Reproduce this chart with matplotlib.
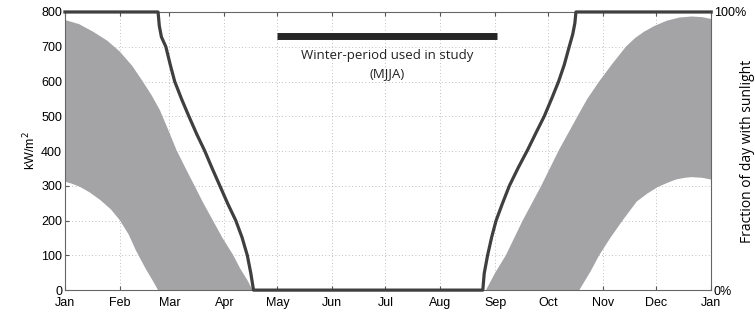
import matplotlib
matplotlib.use("Agg")
from matplotlib import pyplot as plt

# day of year (0 = 1 Jan) and irradiance edges of the grey band, kW/m2
upper_left_day = [0, 8, 16, 24, 31, 38, 44, 49, 53.6, 58, 63, 68, 73, 78, 83.5, 89, 95, 99, 103, 106]
upper_left_val = [777, 765, 743, 717, 686, 645, 600, 560, 518, 465, 403, 352, 302, 252, 201, 150, 101, 62, 29, 0]
lower_left_day = [0, 4, 8.5, 14, 20, 26, 31, 36, 40, 43, 46, 49.5, 52.6]
lower_left_val = [312, 306, 297, 281, 259, 232, 201, 160, 115, 86, 58, 28, 0]

upper_right_day = [237.8, 243, 249, 258.5, 269, 279, 289.5, 295, 301.7, 309, 316.8,
                   322, 327, 333, 340, 347, 354, 360, 365]
upper_right_val = [0, 50, 100, 200, 300, 403, 500, 550, 600, 650, 700,
                   725, 743, 760, 775, 784, 787, 785, 780]
lower_right_day = [290.5, 297, 301.7, 308, 314.9, 319, 323, 329, 335, 340, 345, 350, 354, 360, 365]
lower_right_val = [0, 55, 100, 150, 200, 228, 255, 278, 297, 308, 318, 323, 325, 323, 318]

# fraction of day with sunlight (%)
sun_day = [0, 52.6, 53.3, 54.5, 57, 59.5, 62, 66, 70, 74.5, 79, 83, 87.5, 92, 96.5,
           100, 103, 105, 106.5,
           236, 236.8, 238.7, 241, 243.5, 247, 251, 256, 261.3, 266, 270.7, 275,
           278.8, 282, 284.8, 286.8, 288, 288.6, 365]
sun_frac = [100, 100, 95, 91, 87.5, 81, 75, 68.5, 62.5, 56, 50, 44, 37.5, 31, 25,
            19, 12.5, 6, 0,
            0, 6, 12.5, 19, 25, 31, 37.5, 44, 50.4, 56.5, 62.5, 69,
            75, 81, 87.5, 92, 96, 100, 100]

month_days = [0, 31, 59, 90, 120, 151, 181, 212, 243, 273, 304, 334, 365]
month_labels = ['Jan', 'Feb', 'Mar', 'Apr', 'May', 'Jun', 'Jul', 'Aug', 'Sep',
                'Oct', 'Nov', 'Dec', 'Jan']
winter_start, winter_end = 120, 244

plt.rcParams['font.family'] = ['Liberation Sans', 'DejaVu Sans']

fig = plt.figure(figsize=(7.55, 3.15), dpi=100)
ax = fig.add_axes([0.086, 0.079, 0.856, 0.883])

band = '#a4a4a7'
ax.fill(upper_left_day + lower_left_day[::-1], upper_left_val + lower_left_val[::-1],
        color=band, lw=0, zorder=1)
ax.fill(upper_right_day + lower_right_day[::-1], upper_right_val + lower_right_val[::-1],
        color=band, lw=0, zorder=1)

ax.set_xlim(0, 365)
ax.set_ylim(0, 800)
ax.set_xticks(month_days)
ax.set_xticklabels(month_labels, fontsize=9)
ax.set_yticks(range(0, 801, 100))
ax.tick_params(axis='both', direction='in', length=3, top=True, right=True,
               labelsize=9, color='#555555')
ax.tick_params(axis='x', pad=5)
ax.tick_params(axis='y', pad=2)
ax.grid(True, linestyle=(0, (1, 3)), color='#aaaaaa', linewidth=0.6, zorder=0)
ax.set_axisbelow(True)
for s in ax.spines.values():
    s.set_color('#666666')
    s.set_linewidth(0.8)
ax.set_ylabel('kW/m$^2$', fontsize=9, labelpad=2)

# winter bar and label
ax.plot([winter_start, winter_end], [732, 732], color='#262626', lw=5,
        solid_capstyle='butt', zorder=4)
ax.text((winter_start + winter_end) / 2, 676, 'Winter-period used in study',
        ha='center', va='center', fontsize=9.5, family='Open Sans', color='#222222')
ax.text((winter_start + winter_end) / 2, 624, '(MJJA)',
        ha='center', va='center', fontsize=9.5, family='Open Sans', color='#222222')

ax2 = ax.twinx()
ax2.set_ylim(0, 100)
ax2.set_yticks([0, 100])
ax2.set_yticklabels(['0%', '100%'], fontsize=9)
ax2.tick_params(axis='y', length=0, pad=2)
for s in ax2.spines.values():
    s.set_visible(False)
ax2.plot(sun_day, sun_frac, color='#3f3f3f', lw=2.3, clip_on=False, zorder=5,
         solid_joinstyle='round')
ax2.set_ylabel('Fraction of day with sunlight', fontsize=10, family='Open Sans')
ax2.yaxis.set_label_coords(1.045, 0.5)

fig.savefig('out.png', dpi=100)
